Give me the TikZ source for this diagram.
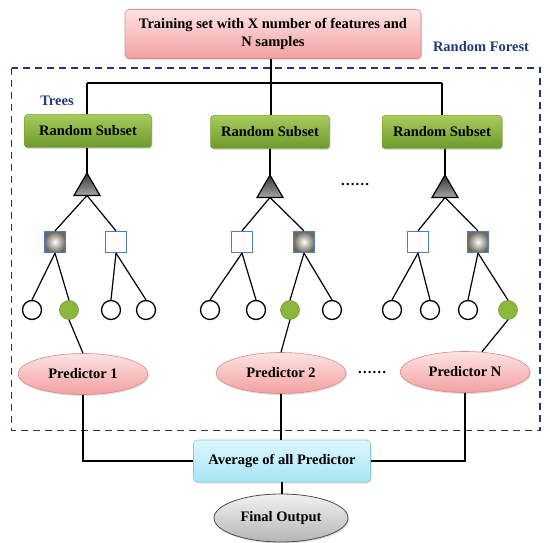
\documentclass[tikz,border=0pt]{standalone}
\usepackage{fontspec}
\setmainfont{Liberation Serif}
\usetikzlibrary{shapes.geometric,shadows}
\definecolor{pinkT}{HTML}{FDE3E3}
\definecolor{pinkB}{HTML}{F3A0A0}
\definecolor{pinkD}{HTML}{D98A8A}
\definecolor{greenT}{HTML}{A6CB5C}
\definecolor{greenB}{HTML}{6E9A2B}
\definecolor{greenD}{HTML}{7FA23C}
\definecolor{cyanT}{HTML}{DDF7FD}
\definecolor{cyanB}{HTML}{A7E5F6}
\definecolor{cyanD}{HTML}{86C9E0}
\definecolor{grayT}{HTML}{F2F2F2}
\definecolor{grayB}{HTML}{B5B5B5}
\definecolor{navy}{HTML}{1F3A74}
\definecolor{sqblue}{HTML}{4F7EBA}
\definecolor{leafgreen}{HTML}{8DB63C}
\definecolor{sqgray}{HTML}{6F6A5E}
\begin{document}
\begin{tikzpicture}[x=1pt,y=-1pt,
  lbl/.style={font=\fontsize{14.5}{17.5}\selectfont\bfseries},
  shad/.style={drop shadow={opacity=0.25,shadow xshift=1pt,shadow yshift=-1.5pt}},
  pinkbox/.style={lbl,rectangle,rounded corners=4pt,top color=pinkT,bottom color=pinkB,draw=pinkD,line width=0.6pt,shad,align=center},
  subsetbox/.style={lbl,rectangle,rounded corners=3pt,top color=greenT,bottom color=greenB,draw=greenD,line width=0.5pt,shad,minimum height=33pt},
  predell/.style={lbl,ellipse,inner sep=0pt,top color=pinkT,bottom color=pinkB,draw=pinkD,line width=0.6pt,shad,minimum width=130pt,minimum height=41pt},
  avgbox/.style={lbl,rectangle,rounded corners=4pt,top color=cyanT,bottom color=cyanB,draw=cyanD,line width=0.6pt,shad,minimum width=177pt,minimum height=42pt},
  finalell/.style={lbl,ellipse,inner sep=0pt,top color=grayT,bottom color=grayB,draw=black!70,line width=0.8pt,shad,minimum width=134pt,minimum height=48pt},
  tri/.style={regular polygon,regular polygon sides=3,minimum size=30pt,inner sep=0pt,outer sep=0pt,draw=black,line width=1.2pt,top color=black!80,bottom color=black!35},
  wsq/.style={rectangle,minimum size=21pt,inner sep=0pt,draw=sqblue,line width=1.2pt,fill=white},
  fsq/.style={rectangle,minimum size=21pt,inner sep=0pt,draw=sqblue,line width=1.2pt,inner color=white,outer color=sqgray},
  leaf/.style={circle,minimum size=19pt,inner sep=0pt,draw=black,line width=1.3pt,fill=white},
  gleaf/.style={circle,minimum size=19pt,inner sep=0pt,fill=leafgreen,draw=leafgreen!85!black,line width=0.6pt},
  conn/.style={draw=black,line width=1.2pt},
  navytxt/.style={lbl,text=navy}
]
\useasboundingbox (0,0) rectangle (550,543);

% dashed random forest frame
\draw[navy,line width=1.6pt,dash pattern=on 7pt off 5pt] (11.5,68) rectangle (540,430.5);

% top box
\node[pinkbox,minimum width=296pt,minimum height=49pt] (top) at (273,34)
  {Training set with X number of features and\\N samples};
\node[navytxt] (rf) at (481,47) {Random Forest};
\node[navytxt] (trees) at (57,101) {Trees};

% random subsets
\node[subsetbox,minimum width=127pt] (rs1) at (88,131) {Random Subset};
\node[subsetbox,minimum width=119pt] (rs2) at (270,132) {Random Subset};
\node[subsetbox,minimum width=120pt] (rs3) at (442,132) {Random Subset};

% bus
\coordinate (j1) at (87,83);
\coordinate (j2) at (271,83);
\coordinate (j3) at (442,83);
\draw[conn] (top.south -| j2) -- (rs2.north -| j2);
\draw[conn] (j1) -- (j3);
\draw[conn] (j1) -- (rs1.north -| j1);
\draw[conn] (j3) -- (rs3.north -| j3);

% triangles
\node[tri] (t1) at (87,188) {};
\node[tri] (t2) at (270,190) {};
\node[tri] (t3) at (445,190) {};
\draw[conn] (rs1.south -| t1) -- (t1.north);
\draw[conn] (rs2.south -| t2) -- (t2.north);
\draw[conn] (rs3.south -| t3) -- (t3.north);

\node[lbl] (d1) at (355,185) {……};

% squares
\node[fsq] (s1a) at (55,242) {};
\node[wsq] (s1b) at (116,242) {};
\node[wsq] (s2a) at (242,242) {};
\node[fsq] (s2b) at (304,242) {};
\node[wsq] (s3a) at (418,242) {};
\node[fsq] (s3b) at (478,242) {};
\foreach \t/\a/\b in {t1/s1a/s1b,t2/s2a/s2b,t3/s3a/s3b}{
  \draw[conn] (\t.south) -- (\a.north);
  \draw[conn] (\t.south) -- (\b.north);
}

% leaves
\node[leaf]  (c1a) at (32,310) {};
\node[gleaf] (c1b) at (69,310) {};
\node[leaf]  (c1c) at (111,310) {};
\node[leaf]  (c1d) at (146,310) {};
\node[leaf]  (c2a) at (210,310) {};
\node[leaf]  (c2b) at (256,310) {};
\node[gleaf] (c2c) at (290,310) {};
\node[leaf]  (c2d) at (332,310) {};
\node[leaf]  (c3a) at (392,310) {};
\node[leaf]  (c3b) at (430,310) {};
\node[leaf]  (c3c) at (468,310) {};
\node[gleaf] (c3d) at (508,310) {};
\foreach \s/\a/\b in {s1a/c1a/c1b,s1b/c1c/c1d,s2a/c2a/c2b,s2b/c2c/c2d,s3a/c3a/c3b,s3b/c3c/c3d}{
  \draw[conn] (\s.south) -- (\a.north);
  \draw[conn] (\s.south) -- (\b.north);
}

% predictors
\node[predell] (p1) at (83,374) {Predictor 1};
\node[predell] (p2) at (281,373) {Predictor 2};
\node[predell] (pN) at (465,372) {Predictor N};
\node[lbl] (d2) at (372,373) {……};
\draw[conn] (c1b.south) -- (p1.north);
\draw[conn] (c2c.south) -- (p2.north);
\draw[conn] (c3d.south) -- (pN.50);

% average and final
\node[avgbox] (avg) at (282,461) {Average of all Predictor};
\node[finalell] (final) at (281,518) {Final Output};
\draw[conn] (p1.south) |- (avg.west);
\draw[conn] (p2.south) -- (p2.south |- avg.north);
\draw[conn] (pN.south) |- (avg.east);
\draw[conn] (avg.south) -- (avg.south |- final.north);
\end{tikzpicture}
\end{document}
